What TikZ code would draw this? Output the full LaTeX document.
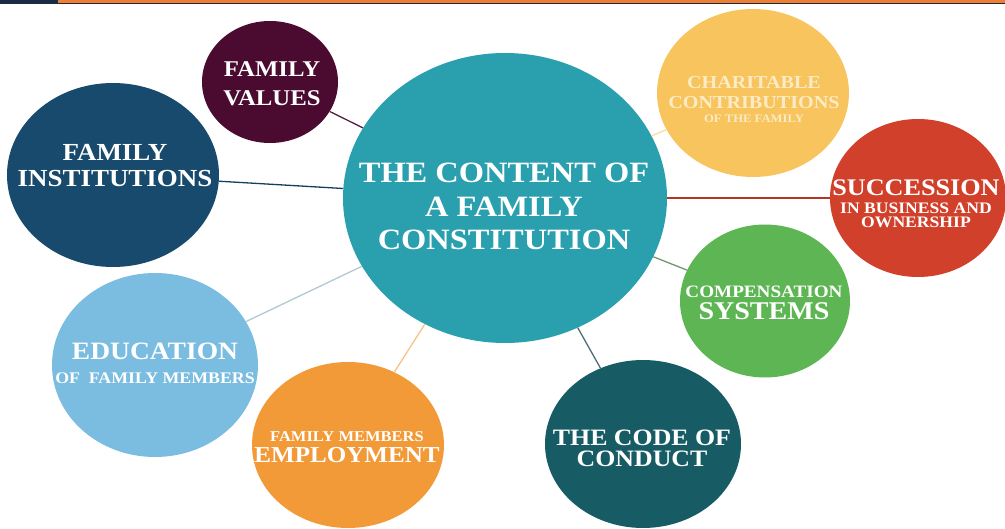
\documentclass[tikz,border=0pt]{standalone}
\usepackage{fontspec}
\setmainfont{Liberation Serif}[FakeStretch=1.1]
\usepackage{tikz}
\usetikzlibrary{shapes.geometric}

\definecolor{topnavy}{HTML}{1C2B44}
\definecolor{toporange}{HTML}{EE7F33}
\definecolor{ctrteal}{HTML}{2A9FAE}
\definecolor{valmaroon}{HTML}{4B0A2F}
\definecolor{instnavy}{HTML}{174A6C}
\definecolor{edublue}{HTML}{7BBDE0}
\definecolor{emporange}{HTML}{F29A38}
\definecolor{codeteal}{HTML}{175C64}
\definecolor{compgreen}{HTML}{5DB653}
\definecolor{succred}{HTML}{D0402A}
\definecolor{charyellow}{HTML}{F8C45E}
\definecolor{chartext}{HTML}{FCEBC4}

\begin{document}
\begin{tikzpicture}[x=1pt, y=-1pt,
  bub/.style={ellipse, inner sep=0pt},
  lbl/.style={text=white, align=center, inner sep=0pt},
  link/.style={line width=1.3pt}]
\useasboundingbox (0,0) rectangle (1005,529);
\fill[topnavy] (0,0) rectangle (1005,4.5);
\fill[toporange] (58,0) rectangle (1005,3);

\node[bub, fill=ctrteal, minimum width=324pt, minimum height=290pt] (C) at (505,198) {};
\node[bub, fill=valmaroon, minimum width=136pt, minimum height=122pt] (V) at (270,82) {};
\node[bub, fill=instnavy, minimum width=212pt, minimum height=184pt] (I) at (113,175) {};
\node[bub, fill=edublue, minimum width=206pt, minimum height=184pt] (E) at (155,365) {};
\node[bub, fill=emporange, minimum width=192pt, minimum height=166pt] (M) at (348,445) {};
\node[bub, fill=codeteal, minimum width=196pt, minimum height=168pt] (D) at (643,444) {};
\node[bub, fill=compgreen, minimum width=170pt, minimum height=153pt] (S) at (765,301) {};
\node[bub, fill=succred, minimum width=176pt, minimum height=158pt] (R) at (918,198) {};
\node[bub, fill=charyellow, minimum width=192pt, minimum height=168pt] (H) at (753,93) {};

\draw[link, valmaroon!80!gray] (V)--(C);
\draw[link, instnavy!85!black] (I)--(C);
\draw[link, edublue!60!gray!60] (E)--(C);
\draw[link, emporange!60] (M)--(C);
\draw[link, codeteal!50!gray] (D)--(C);
\draw[link, compgreen!40!gray] (S)--(C);
\draw[link, succred!85!black] (R)--(C);
\draw[link, charyellow!60] (H)--(C);

\node[lbl, font=\bfseries\fontsize{29.5}{33.8}\selectfont] (Ct) at (504,206.5)
  {THE CONTENT OF\\A FAMILY\\CONSTITUTION};
\node[lbl, font=\bfseries\fontsize{22.5}{29}\selectfont] (Vt) at (272,84) {FAMILY\\VALUES};
\node[lbl, font=\bfseries\fontsize{24.5}{26}\selectfont] (It) at (115,166) {FAMILY\\INSTITUTIONS};
\node[lbl, font=\bfseries\fontsize{25}{24.5}\selectfont] (Et) at (155,363.5)
  {EDUCATION\\{\fontsize{16.2}{0}\selectfont OF\ \ FAMILY MEMBERS}};
\node[lbl, font=\bfseries\fontsize{22.8}{21}\selectfont] (Mt) at (347,447.5)
  {{\fontsize{15}{0}\selectfont FAMILY MEMBERS}\\EMPLOYMENT};
\node[lbl, font=\bfseries\fontsize{23.5}{21}\selectfont] (Dt) at (642,448) {THE CODE OF\\CONDUCT};
\node[lbl, font=\bfseries\fontsize{25.5}{22}\selectfont] (St) at (764,303)
  {{\fontsize{17.4}{0}\selectfont COMPENSATION}\\SYSTEMS};
\node[lbl, font=\bfseries\fontsize{16}{18}\selectfont] (Rt) at (916,203.5)
  {{\fontsize{23.8}{0}\selectfont SUCCESSION}\\IN BUSINESS AND\\[-4pt]OWNERSHIP};
\node[lbl, text=chartext, font=\bfseries\fontsize{18.3}{20}\selectfont] (Ht) at (754,99.5)
  {CHARITABLE\\CONTRIBUTIONS\\[-6pt]{\fontsize{11.5}{0}\selectfont OF THE FAMILY}};
\end{tikzpicture}
\end{document}
